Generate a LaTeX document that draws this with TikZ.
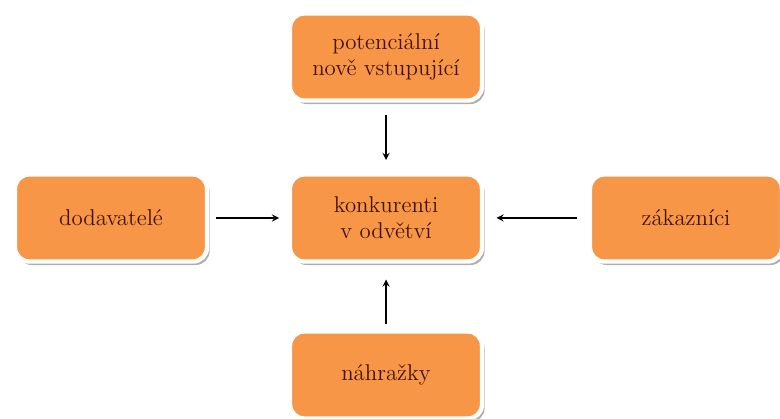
\documentclass[tikz,border=0pt]{standalone}
\usepackage{tikz}
\usetikzlibrary{shapes, arrows, positioning, shadows}

\definecolor{boxorange}{RGB}{247,150,70}
\definecolor{boxtext}{RGB}{64,18,10}

\begin{document}
\begin{tikzpicture}[auto, >=stealth]
    % Styles
    \tikzstyle{force} = [rectangle, draw=white, line width=2.5pt, fill=boxorange, text=boxtext, minimum width=3.84cm, minimum height=1.74cm, rounded corners=8pt, align=center, font=\fontsize{13}{15}\selectfont, drop shadow={shadow xshift=1.5pt, shadow yshift=-2pt, fill=black!45, opacity=.7}]
    \tikzstyle{line} = [draw, line width=0.8pt, ->]

    \useasboundingbox (0,0) rectangle (15.6,8.38);

    % Nodes
    \node [force] (rivals) at (7.72,4.02) {konkurenti\\v odvětví};
    \node [force, above of=rivals, node distance=3.22cm] (entrants) {potenciální\\nově vstupující};
    \node [force, left of=rivals, node distance=5.5cm] (suppliers) {dodavatelé};
    \node [force, right of=rivals, node distance=6cm] (buyers) {zákazníci};
    \node [force, below of=rivals, node distance=3.14cm] (substitutes) {náhražky};

    % Paths
    \path [line, shorten <=7pt, shorten >=7pt] (entrants) -- (rivals);
    \path [line, shorten <=4pt, shorten >=5pt] (suppliers) -- (rivals);
    \path [line, shorten <=6pt, shorten >=7pt] (buyers) -- (rivals);
    \path [line, shorten <=3pt, shorten >=9pt] (substitutes) -- (rivals);

\end{tikzpicture}
\end{document}
